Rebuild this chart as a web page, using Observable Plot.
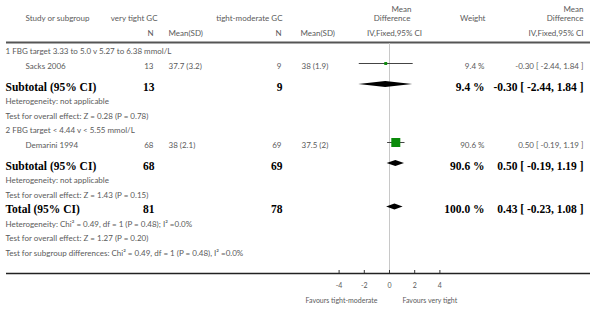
<!DOCTYPE html>
<html>
<head>
<meta charset="utf-8">
<script src="https://cdn.jsdelivr.net/npm/d3@7"></script>
<script src="https://cdn.jsdelivr.net/npm/@observablehq/plot@0.6"></script>
<style>
  html, body { margin: 0; padding: 0; background: #fff; }
  svg { display: block; }
</style>
</head>
<body>
<div id="chart"></div>
<script>
// ---------------- DATA ----------------
const headerStudy = "Study or subgroup";
const armNames = ["very tight GC", "tight-moderate GC"];
const colN = "N";
const colMeanSD = "Mean(SD)";
const effectHeader = ["Mean", "Difference", "IV,Fixed,95% CI"];
const weightHeader = "Weight";

const groupLabels = [
  "1 FBG target 3.33 to 5.0 v 5.27 to 6.38 mmol/L",
  "2 FBG target < 4.44 v < 5.55 mmol/L"
];
const studyNames = ["Sacks 2006", "Demarini 1994"];
const studyGroup = [0, 1];
const n1 = [13, 68];
const mean1 = [37.7, 38];
const sd1 = [3.2, 2.1];
const n2 = [9, 69];
const mean2 = [38, 37.5];
const sd2 = [1.9, 2];
const studyMD = [-0.30, 0.50];
const studyLo = [-2.44, -0.19];
const studyHi = [1.84, 1.19];
const studyWeight = [9.4, 90.6];

const subN1 = [13, 68];
const subN2 = [9, 69];
const subMD = [-0.30, 0.50];
const subLo = [-2.44, -0.19];
const subHi = [1.84, 1.19];
const subWeight = [9.4, 90.6];
const subHet = ["Heterogeneity: not applicable", "Heterogeneity: not applicable"];
const subTest = ["Test for overall effect: Z = 0.28 (P = 0.78)", "Test for overall effect: Z = 1.43 (P = 0.15)"];

const totalN1 = 81;
const totalN2 = 78;
const totalMD = 0.43;
const totalLo = -0.23;
const totalHi = 1.08;
const totalWeight = 100.0;
const totalHet = "Heterogeneity: Chi\u00B2 = 0.49, df = 1 (P = 0.48); I\u00B2 =0.0%";
const totalTest = "Test for overall effect: Z = 1.27 (P = 0.20)";
const subgroupTest = "Test for subgroup differences: Chi\u00B2 = 0.49, df = 1 (P = 0.48), I\u00B2 =0.0%";

const axisTicks = [-4, -2, 0, 2, 4];
const favours = ["Favours tight-moderate", "Favours very tight"];

// ---------------- LAYOUT ----------------
const W = 600, H = 311;
const mL = 6, mR = 10;
const zeroPx = 389, pxPerUnit = 12.6;
const firstRowY = 51, pitch = 14.5, subtotalGap = 21;
const topRuleY = 42, bottomRuleY = 273, tickLabelY = 285, favoursY = 300;
const markerOff = 2.5;
const sans = "Lato, 'Open Sans', sans-serif";
const serif = "'Liberation Serif', 'DejaVu Serif', serif";
const grey = "#5a5a5a";

const fmtMD = (m, l, h) => `${m.toFixed(2)} [ ${l.toFixed(2)}, ${h.toFixed(2)} ]`;
const fmtW = w => `${w.toFixed(1)} %`;
const fmtMS = (m, s) => `${m} (${s})`;

// build rows
const rows = [];
let y = firstRowY;
let prevType = null;
function push(r) {
  if (prevType !== null) y += (r.type === "summary" && prevType === "study") ? subtotalGap : pitch;
  r.y = y; prevType = r.type; rows.push(r);
}
groupLabels.forEach((g, gi) => {
  push({type: "note", label: g});
  studyNames.forEach((s, i) => {
    if (studyGroup[i] !== gi) return;
    push({type: "study", label: s, n1: String(n1[i]), ms1: fmtMS(mean1[i], sd1[i]),
      n2: String(n2[i]), ms2: fmtMS(mean2[i], sd2[i]), md: studyMD[i], lo: studyLo[i], hi: studyHi[i],
      w: studyWeight[i]});
  });
  push({type: "summary", label: "Subtotal (95% CI)", n1: String(subN1[gi]), n2: String(subN2[gi]),
    md: subMD[gi], lo: subLo[gi], hi: subHi[gi], w: subWeight[gi]});
  push({type: "note", label: subHet[gi]});
  push({type: "note", label: subTest[gi]});
});
push({type: "summary", label: "Total (95% CI)", n1: String(totalN1), n2: String(totalN2),
  md: totalMD, lo: totalLo, hi: totalHi, w: totalWeight});
push({type: "note", label: totalHet});
push({type: "note", label: totalTest});
push({type: "note", label: subgroupTest});

const studies = rows.filter(r => r.type === "study");
const summaries = rows.filter(r => r.type === "summary");
const notes = rows.filter(r => r.type === "note");

const diamondPts = summaries.flatMap((r, i) => [
  {id: i, x: r.lo, y1: r.y - markerOff, y2: r.y - markerOff},
  {id: i, x: r.md, y1: r.y - markerOff - 3, y2: r.y - markerOff + 3},
  {id: i, x: r.hi, y1: r.y - markerOff, y2: r.y - markerOff}
]);

const headers = [
  {y: 9, text: effectHeader[0], px: 411, anchor: "end"},
  {y: 18, text: effectHeader[1], px: 410, anchor: "end"},
  {y: 33, text: effectHeader[2], px: 394, anchor: "middle"},
  {y: 9, text: effectHeader[0], px: 583, anchor: "end"},
  {y: 18, text: effectHeader[1], px: 583, anchor: "end"},
  {y: 33, text: effectHeader[2], px: 583, anchor: "end"},
  {y: 18, text: headerStudy, px: 25, anchor: "start"},
  {y: 18, text: armNames[0], px: 157, anchor: "end"},
  {y: 18, text: armNames[1], px: 282, anchor: "end"},
  {y: 18, text: weightHeader, px: 485, anchor: "end"},
  {y: 33, text: colN, px: 153, anchor: "end"},
  {y: 33, text: colMeanSD, px: 168, anchor: "start"},
  {y: 33, text: colN, px: 281, anchor: "end"},
  {y: 33, text: colMeanSD, px: 300, anchor: "start"}
];

function col(data, text, px, anchor, bold) {
  return Plot.text(data, {
    y: "y", text, frameAnchor: "left", dx: px - mL, textAnchor: anchor,
    fontSize: bold ? 11.5 : 8, fontFamily: bold ? serif : sans,
    fontWeight: bold ? "bold" : "normal", fill: bold ? "#000" : grey
  });
}

const headerMarks = headers.map(h => col([h], "text", h.px, h.anchor, false));

const chart = Plot.plot({
  width: W, height: H,
  marginLeft: mL, marginRight: mR, marginTop: 0, marginBottom: 0,
  x: {domain: [-4, 4], range: [zeroPx - 4 * pxPerUnit, zeroPx + 4 * pxPerUnit], axis: null},
  y: {type: "identity", axis: null},
  r: {type: "sqrt", domain: [0, 100], range: [0, 5.34]},
  style: {fontFamily: sans},
  marks: [
    // rules
    Plot.ruleY([topRuleY], {y: d => d, stroke: "#555", strokeWidth: 2}),
    Plot.ruleY([bottomRuleY], {y: d => d, stroke: "#222", strokeWidth: 1.3}),
    Plot.ruleX([0], {x: d => d, y1: () => topRuleY + 1, y2: () => bottomRuleY, stroke: "#c8c8c8", strokeWidth: 1}),
    // axis
    Plot.ruleX(axisTicks, {x: d => d, y1: () => bottomRuleY - 3, y2: () => bottomRuleY, stroke: "#333"}),
    Plot.text(axisTicks, {x: d => d, y: () => tickLabelY, text: d => String(d), fontSize: 7, fill: grey, fontFamily: sans}),
    Plot.text([favours[0]], {x: () => 0, y: () => favoursY, text: d => d, dx: -12, textAnchor: "end", fontSize: 7, fill: grey, fontFamily: sans}),
    Plot.text([favours[1]], {x: () => 0, y: () => favoursY, text: d => d, dx: 13, textAnchor: "start", fontSize: 7, fill: grey, fontFamily: sans}),
    // headers
    ...headerMarks,
    // forest marks
    Plot.link(studies, {x1: "lo", x2: "hi", y1: d => d.y - markerOff, y2: d => d.y - markerOff, stroke: "#444", strokeWidth: 1}),
    Plot.dot(studies, {x: "md", y: d => d.y - markerOff, r: "w", symbol: "square", fill: "#0a8a0a", stroke: "none"}),
    Plot.area(diamondPts, {x1: "x", y1: "y1", y2: "y2", z: "id", fill: "#000", curve: "linear"}),
    // text columns
    col(notes, "label", 5, "start", false),
    col(studies, "label", 25, "start", false),
    col(studies, "n1", 153, "end", false),
    col(studies, "ms1", 168, "start", false),
    col(studies, "n2", 281, "end", false),
    col(studies, "ms2", 301, "start", false),
    col(studies, d => fmtW(d.w), 484, "end", false),
    col(studies, d => fmtMD(d.md, d.lo, d.hi), 583, "end", false),
    col(summaries, "label", 5, "start", true),
    col(summaries, "n1", 154, "end", true),
    col(summaries, "n2", 282, "end", true),
    col(summaries, d => fmtW(d.w), 484, "end", true),
    col(summaries, d => fmtMD(d.md, d.lo, d.hi), 583, "end", true)
  ]
});

document.getElementById("chart").append(chart);
</script>
</body>
</html>
